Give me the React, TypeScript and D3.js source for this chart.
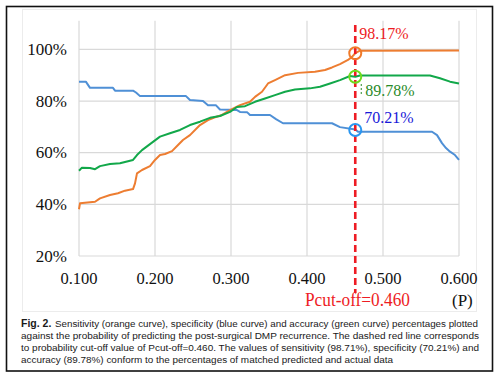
import React from 'react';
import * as d3 from 'd3';

const xTicks = [0.1, 0.2, 0.3, 0.4, 0.5, 0.6];
const xTickLabels = ['0.100', '0.200', '0.300', '0.400', '0.500', '0.600'];
const yTicks = [20, 40, 60, 80, 100];
const yTickLabels = ['20%', '40%', '60%', '80%', '100%'];

const sensP = [0.100,0.1013,0.1211,0.1276,0.1408,0.1513,0.1605,0.1711,0.1737,0.1763,0.1829,0.1934,0.200,0.2066,0.2132,0.2224,0.2303,0.2368,0.246,0.2592,0.2697,0.2789,0.2882,0.2987,0.3118,0.325,0.3316,0.3408,0.3487,0.3579,0.3711,0.3882,0.4105,0.4237,0.4329,0.4434,0.4539,0.4592,0.4635,0.4697,0.600];
const sensV = [38.1,40.4,41.0,42.3,43.6,44.3,45.3,45.9,48.1,52.0,53.3,54.8,57.2,59.1,59.5,60.6,63.0,64.9,66.8,70.7,72.6,73.7,74.6,76.5,78.4,79.7,81.6,83.6,86.8,88.1,90.0,90.9,91.3,92.0,93.0,94.3,95.9,97.1,98.5,99.5,99.6];

const specP = [0.100,0.109,0.1145,0.1447,0.1474,0.1711,0.175,0.1803,0.2408,0.246,0.2632,0.2697,0.280,0.2855,0.3079,0.3118,0.3211,0.325,0.3513,0.3592,0.3684,0.4329,0.4434,0.4635,0.4671,0.5645,0.5711,0.5776,0.5829,0.5882,0.5947,0.600];
const specV = [87.5,87.5,85.1,85.1,84.0,84.0,83.3,81.9,81.9,80.4,80.0,78.4,78.4,76.7,76.5,75.8,75.7,74.6,74.6,73.0,71.4,71.4,69.9,69.0,68.1,68.1,66.8,63.7,61.8,60.4,59.1,57.2];

const accP = [0.100,0.1039,0.1145,0.1211,0.1276,0.1408,0.1539,0.1671,0.1711,0.1763,0.1829,0.1934,0.2066,0.2197,0.2329,0.246,0.2592,0.2724,0.2855,0.2987,0.3079,0.3184,0.3316,0.3447,0.3579,0.3711,0.3842,0.4039,0.4171,0.4303,0.4434,0.4566,0.4635,0.4697,0.5618,0.575,0.5882,0.600];
const accV = [53.0,54.2,54.1,53.6,54.8,55.6,55.9,56.9,57.2,59.1,61.0,63.3,66.2,67.5,68.8,70.7,72.0,73.5,74.2,75.8,77.7,78.0,79.7,81.0,82.3,83.6,84.5,84.9,85.5,86.8,88.1,89.7,89.4,89.9,89.9,88.8,87.5,86.8];

const cutoffP = 0.4635;
const cutoffLabel = 'Pcut-off=0.460';
const markerValues = [98.5, 89.4, 68.8];
const markerLabels = ['98.17%', '89.78%', '70.21%'];

const captionHead = 'Fig. 2.';
const captionLines = [
  'Sensitivity (orange curve), specificity (blue curve) and accuracy (green curve) percentages plotted',
  'against the probability of predicting the post-surgical DMP recurrence. The dashed red line corresponds',
  'to probability cut-off value of Pcut-off=0.460. The values of sensitivity (98.71%), specificity (70.21%) and',
  'accuracy (89.78%) conform to the percentages of matched predicted and actual data',
];

const C_ORANGE = '#ED7D31';
const C_BLUE = '#4F90D6';
const C_GREEN = '#12A84A';
const C_RED = '#EE1C24';
const SERIF = "'Liberation Serif', 'DejaVu Serif', serif";
const SANS = "'Liberation Sans', Arial, sans-serif";
const serifStyle = { fontFamily: SERIF };
const sansStyle = { fontFamily: SANS };

export default function App() {
  const x = d3.scaleLinear().domain([0.1, 0.6]).range([79, 459]);
  const y = d3.scaleLinear().domain([20, 111.1]).range([256, 20.7]);
  const line = d3.line<[number, number]>().x(d => x(d[0])).y(d => y(d[1])).curve(d3.curveLinear);
  const series = [
    { p: specP, v: specV, color: C_BLUE },
    { p: sensP, v: sensV, color: C_ORANGE },
    { p: accP, v: accV, color: C_GREEN },
  ];
  const cx = x(cutoffP);
  const markerColors = ['#F07A2A', '#6EDC1E', '#2A96F0'];
  const labelColors = [C_RED, '#2A8A2A', '#1818D8'];
  const labelOffsets = [[4, -14], [10, 19], [9, -7]];
  const capX = [55, 21, 21, 21];
  const capLen = [423, 458, 458, 372];

  return (
    <svg width={500} height={378} style={{ position: 'absolute', left: 0, top: 0, background: '#fff' }}>
      <rect x={0} y={0} width={500} height={378} fill="#fff" />
      <rect x={6.5} y={6.5} width={486} height={364.5} fill="none" stroke="#111" strokeWidth={1.6} />
      <rect x={22.5} y={9.5} width={454} height={302} fill="none" stroke="#ececec" strokeWidth={1} />
      {yTicks.map((t, i) => (
        <g key={'y' + i}>
          <line x1={x(0.1)} x2={x(0.6)} y1={y(t)} y2={y(t)} stroke="#d9d9d9" strokeWidth={1.2} />
          <text x={67} y={y(t) + 5.5} textAnchor="end" style={serifStyle} fontSize={17} fill="#111">{yTickLabels[i]}</text>
        </g>
      ))}
      {xTicks.map((t, i) => (
        <g key={'x' + i}>
          <line x1={x(t)} x2={x(t)} y1={y(111.1)} y2={y(20)} stroke="#d9d9d9" strokeWidth={1.2} />
          <text x={x(t)} y={284} textAnchor="middle" style={serifStyle} fontSize={16.5} fill="#111">{xTickLabels[i]}</text>
        </g>
      ))}
      {series.map((s, i) => (
        <path key={'s' + i} d={line(s.p.map((p, j) => [p, s.v[j]] as [number, number])) || ''} fill="none" stroke={s.color} strokeWidth={2} strokeLinejoin="round" />
      ))}
      <line x1={cx} x2={cx} y1={25} y2={293} stroke={C_RED} strokeWidth={2.6} strokeDasharray="7,4" />
      {markerValues.map((v, i) => (
        <circle key={'m' + i} cx={cx} cy={y(v)} r={6} fill="none" stroke={markerColors[i]} strokeWidth={2} />
      ))}
      <line x1={cx + 6} x2={cx + 6} y1={84} y2={94} stroke="#2A8A2A" strokeWidth={1} strokeDasharray="2,2" />
      {markerLabels.map((t, i) => (
        <text key={'l' + i} x={cx + labelOffsets[i][0]} y={y(markerValues[i]) + labelOffsets[i][1]} style={serifStyle} fontSize={16} fill={labelColors[i]}>{t}</text>
      ))}
      <text x={305} y={306} style={serifStyle} fontSize={18} fill={C_RED} textLength={105} lengthAdjust="spacingAndGlyphs">{cutoffLabel}</text>
      <text x={452} y={306} style={serifStyle} fontSize={17} fill="#111">(P)</text>
      <text x={21} y={327} style={sansStyle} fontSize={10.5} fontWeight="bold" fill="#1a1a1a">{captionHead}</text>
      {captionLines.map((t, i) => (
        <text key={'c' + i} x={capX[i]} y={327 + i * 12} style={sansStyle} fontSize={9.6} fill="#1a1a1a"
          textLength={capLen[i]} lengthAdjust="spacingAndGlyphs">{t}</text>
      ))}
    </svg>
  );
}
